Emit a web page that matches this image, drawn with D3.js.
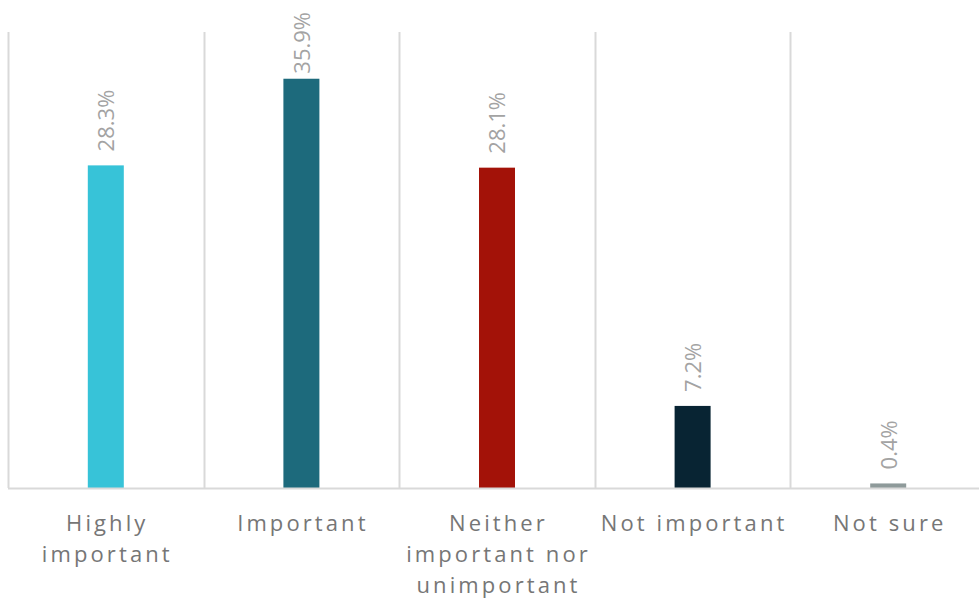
<!DOCTYPE html>
<html>
<head>
<meta charset="utf-8">
<script src="https://cdn.jsdelivr.net/npm/d3@7"></script>
<style>
  html, body { margin: 0; padding: 0; background: #fff; }
  svg { display: block; }
</style>
</head>
<body>
<svg id="chart" width="979" height="598"></svg>
<script>
// Survey responses: share of respondents per answer
const categories = ["Highly important", "Important", "Neither important nor unimportant", "Not important", "Not sure"];
const categoryLines = [["Highly", "important"], ["Important"], ["Neither", "important nor", "unimportant"], ["Not important"], ["Not sure"]];
const values = [28.3, 35.9, 28.1, 7.2, 0.4];
const colors = ["#37C3D8", "#1D6A7C", "#A31208", "#082433", "#8E9A9A"];

const svg = d3.select("#chart");
const margin = { left: 8, top: 32, bottom: 488, right: 986 };

const x = d3.scaleBand()
  .domain(categories)
  .range([margin.left, margin.right])
  .paddingInner(0).paddingOuter(0);

const y = d3.scaleLinear().domain([0, 40]).range([margin.bottom, margin.top]);

const barWidth = 36;

// category separators
const edges = categories.map(c => x(c)).concat([x.range()[1]]);
svg.append("g").selectAll("line")
  .data(edges)
  .join("line")
  .attr("x1", d => Math.round(d) + 0.5)
  .attr("x2", d => Math.round(d) + 0.5)
  .attr("y1", y(40))
  .attr("y2", y(0))
  .attr("stroke", "#D9D9D9")
  .attr("stroke-width", 2);

// bars
svg.append("g").selectAll("rect")
  .data(values)
  .join("rect")
  .attr("x", (d, i) => x(categories[i]) + x.bandwidth() / 2 - barWidth / 2)
  .attr("width", barWidth)
  .attr("y", d => y(d))
  .attr("height", d => y(0) - y(d))
  .attr("fill", (d, i) => colors[i]);

// baseline
svg.append("line")
  .attr("x1", margin.left)
  .attr("x2", margin.right)
  .attr("y1", y(0) + 0.5)
  .attr("y2", y(0) + 0.5)
  .attr("stroke", "#D9D9D9")
  .attr("stroke-width", 2);

// value labels, rotated; kept inside the chart area at the top
const valueLabels = svg.append("g").selectAll("text")
  .data(values)
  .join("text")
  .attr("dy", "0.38em")
  .attr("text-anchor", "start")
  .attr("font-family", "'Open Sans', sans-serif")
  .attr("font-size", 22)
  .attr("fill", "#A3A3A3")
  .text(d => d.toFixed(1) + "%");

valueLabels.attr("transform", function (d, i) {
  const cx = x(categories[i]) + x.bandwidth() / 2;
  const len = this.getComputedTextLength();
  const start = Math.max(y(d) - 14, 12 + len);
  return `translate(${cx},${start}) rotate(-90)`;
});

// category labels
const labels = svg.append("g").selectAll("text")
  .data(categoryLines)
  .join("text")
  .attr("font-family", "'Open Sans', sans-serif")
  .attr("font-size", 22)
  .attr("letter-spacing", 3.1)
  .attr("fill", "#767676")
  .attr("text-anchor", "middle");

labels.each(function (lines, i) {
  const cx = x(categories[i]) + x.bandwidth() / 2;
  d3.select(this).selectAll("tspan")
    .data(lines)
    .join("tspan")
    .attr("x", cx + 1.5)
    .attr("y", (d, j) => 531 + j * 31)
    .text(d => d);
});
</script>
</body>
</html>
